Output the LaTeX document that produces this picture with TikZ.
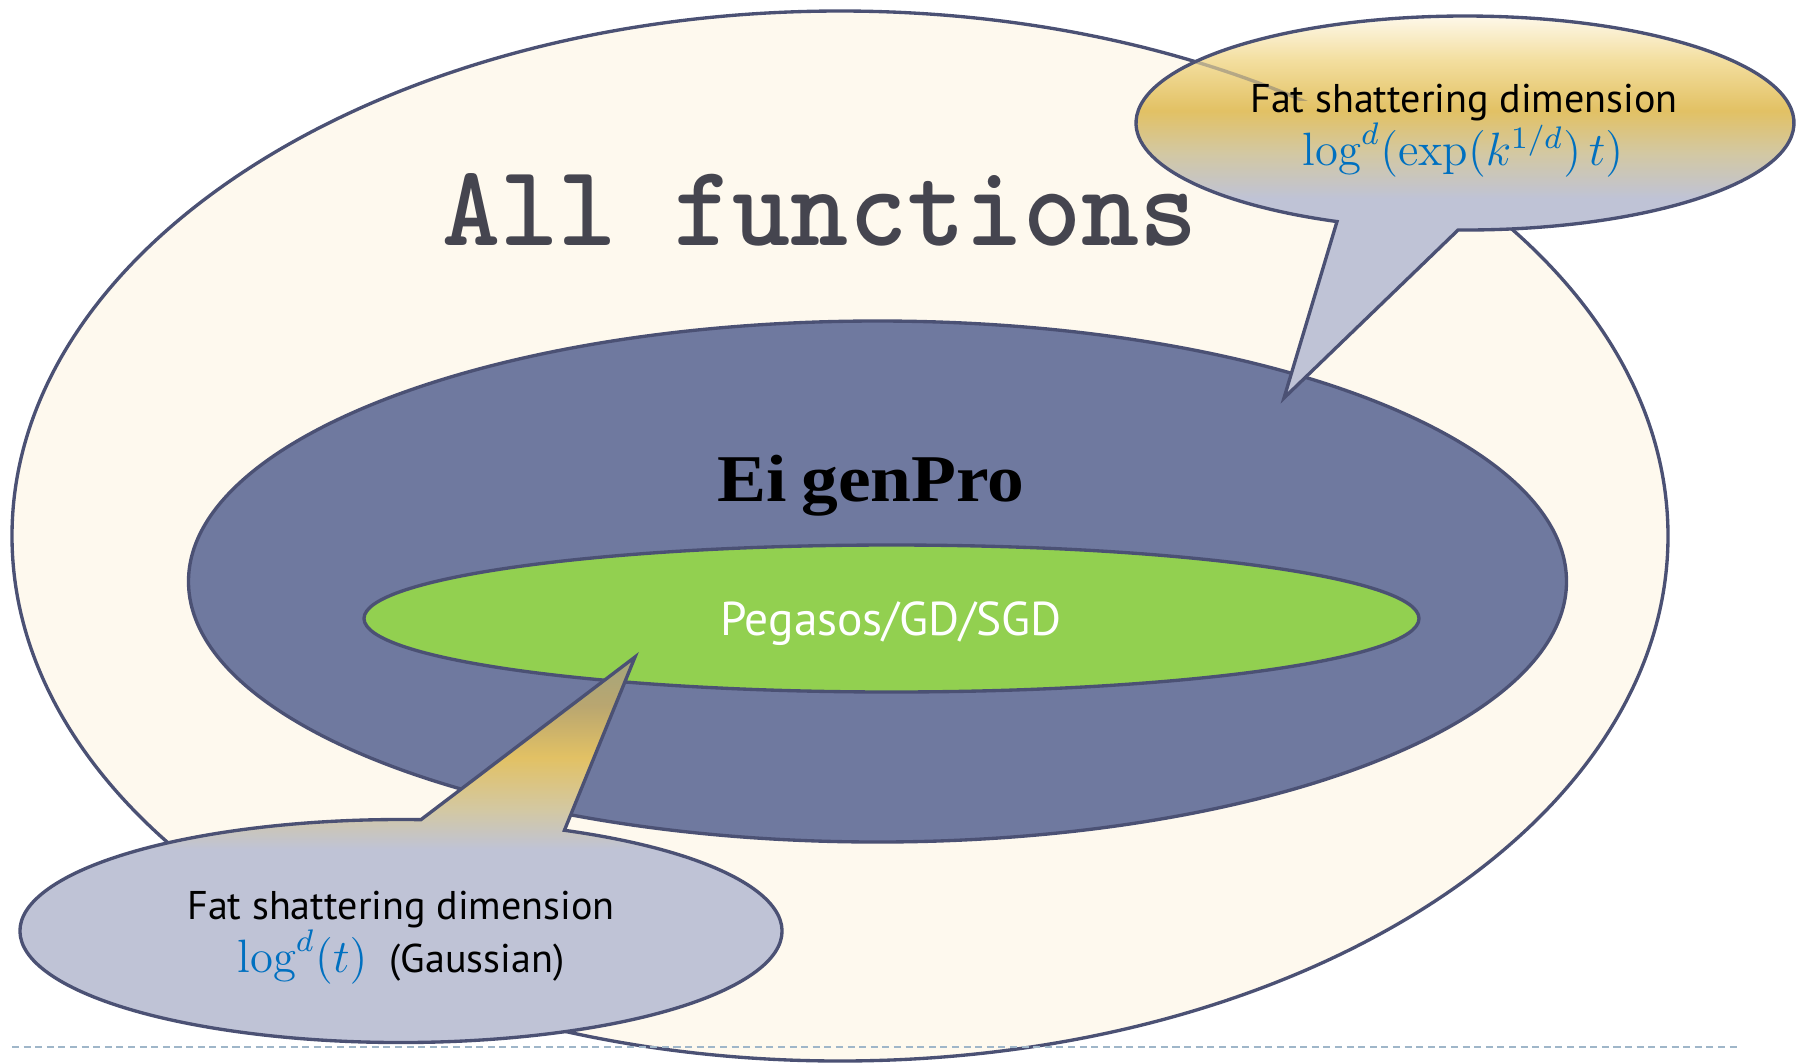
\documentclass[tikz,border=0pt]{standalone}
\usepackage{fontspec}
\newfontfamily\gill{PT Sans}
\newfontfamily\serifb{Liberation Serif}
\usetikzlibrary{calc}
\definecolor{cream}{HTML}{FEF9EE}
\definecolor{slate}{HTML}{6F799F}
\definecolor{pgreen}{HTML}{92D050}
\definecolor{edge}{HTML}{4B5174}
\definecolor{titlegray}{HTML}{45454F}
\definecolor{mathblue}{HTML}{0070C0}
\definecolor{dashc}{HTML}{9FB6C9}
\definecolor{lav}{HTML}{BFC3D6}
\definecolor{tanc}{HTML}{D3C8A2}
\definecolor{gold}{HTML}{E2C164}
\definecolor{goldlt}{HTML}{F3DE9E}
\definecolor{palecr}{HTML}{FEF9EC}
\definecolor{dimtop}{HTML}{A3A67C}
\definecolor{dimmid}{HTML}{B9A670}
\pgfdeclareverticalshading{topcall}{100bp}{color(0bp)=(lav); color(51bp)=(lav); color(57bp)=(tanc); color(62.5bp)=(gold); color(69bp)=(goldlt); color(75bp)=(palecr); color(100bp)=(palecr)}
\pgfdeclareverticalshading{botcall}{100bp}{color(0bp)=(lav); color(51bp)=(lav); color(56bp)=(tanc); color(62.5bp)=(gold); color(69bp)=(dimmid); color(75bp)=(dimtop); color(100bp)=(dimtop)}
\newcommand{\mathbig}[1]{\scalebox{1.108}{\fontsize{12}{14}\selectfont #1}}
\tikzset{
  rim/.style={draw=edge, line width=0.95pt},
  calltext/.style={font=\gill\fontsize{11.4}{13}\selectfont, text=black, inner sep=0pt},
  dashline/.style={draw=dashc, line width=0.55pt, dash pattern=on 2pt off 1.3pt}
}
\begin{document}
\begin{tikzpicture}[x=0.01cm, y=-0.01cm]
\useasboundingbox (0,0) rectangle (1796,1063);
% nested sets
\draw[rim, fill=cream] (840,536) ellipse [x radius=828, y radius=525];
\draw[rim, fill=slate] (877.5,581.5) ellipse [x radius=689, y radius=260.5];
\draw[rim, fill=pgreen] (891.5,618.5) ellipse [x radius=527.5, y radius=73.5];
% labels of sets
\node[anchor=base, inner sep=0pt, text=titlegray, font=\ttfamily\bfseries\fontsize{31.6}{38}\selectfont] (allf) at (820,245) {\scalebox{0.995}[1.04]{All functions}};
\node[anchor=base, inner sep=0pt, text=black, font=\serifb\bfseries\fontsize{19}{23}\selectfont] (eig) at (871,501) {\scalebox{1.1}[1]{Ei\hspace{0.2em}genPro}};
\node[anchor=base, inner sep=0pt, text=white, font=\gill\fontsize{13.5}{16}\selectfont] (peg) at (891,635) {Pegasos/GD/SGD};
% top callout
\coordinate (tc) at (1465,123);
\coordinate (tcr) at ($(tc)+(91.2:329 and 107)$);
\coordinate (ttip) at (1284,398);
\shade[shading=topcall, rim] (tcr) arc[start angle=91.2, end angle=-247.1, x radius=329, y radius=107] -- (ttip) -- cycle;
\begin{scope}
  \clip (tcr) arc[start angle=91.2, end angle=-247.1, x radius=329, y radius=107] -- (ttip) -- cycle;
  \clip (1100,0) rectangle (1400,100);
  \draw[draw=edge, line width=0.95pt, opacity=0.35] (840,536) ellipse [x radius=828, y radius=525];
\end{scope}
\node[calltext, anchor=base] (t1) at (1464,112) {Fat shattering dimension};
\node[anchor=base, inner sep=0pt, text=mathblue] (t2) at (1463,165) {\mathbig{$\log^{d}(\exp(k^{1/d})\,t)$}};
% bottom callout
\coordinate (bc) at (401,931);
\coordinate (bcr) at ($(bc)+(-64.6:381 and 111.5)$);
\coordinate (btip) at (635,657);
\shade[shading=botcall, rim] (bcr) arc[start angle=-64.6, end angle=273, x radius=381, y radius=111.5] -- (btip) -- cycle;
\node[calltext, anchor=base] (b1) at (401,919) {Fat shattering dimension};
\node[anchor=base, inner sep=0pt] (b2) at (401,972) {{\color{mathblue}\mathbig{$\log^{d}(t)$}}\hspace{6.3pt}{\gill\fontsize{11.4}{13}\selectfont(Gaussian)}};
% separator
\coordinate (dl) at (12,1047);
\coordinate (dr) at (1741,1047);
\draw[dashline] (dl) -- (dr);
\end{tikzpicture}
\end{document}
